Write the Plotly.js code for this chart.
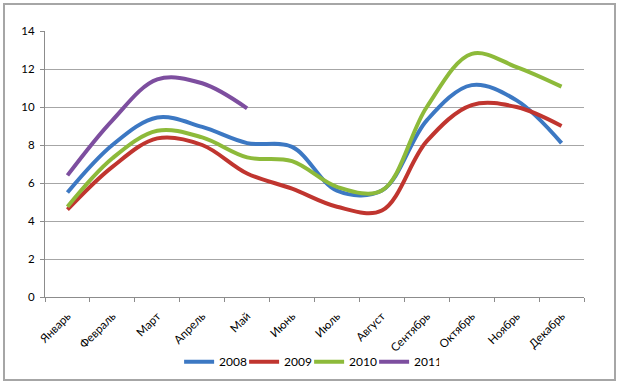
<!DOCTYPE html>
<html>
<head>
<meta charset="utf-8">
<script src="https://cdn.plot.ly/plotly-3.0.1.min.js"></script>
<style>
html,body{margin:0;padding:0;background:#fff;}
#chart{width:620px;height:384px;}
</style>
</head>
<body>
<div id="chart"></div>
<script>
var months = ["Январь","Февраль","Март","Апрель","Май","Июнь","Июль","Август","Сентябрь","Октябрь","Ноябрь","Декабрь"];
var s2008 = [5.5, 8.0, 9.45, 8.95, 8.1, 7.9, 5.6, 5.6, 9.3, 11.15, 10.35, 8.1];
var s2009 = [4.6, 6.85, 8.35, 8.0, 6.5, 5.7, 4.75, 4.55, 8.2, 10.1, 10.0, 9.0];
var s2010 = [4.75, 7.3, 8.75, 8.4, 7.35, 7.15, 5.8, 5.6, 10.0, 12.8, 12.1, 11.07];
var s2011 = [6.4, 9.3, 11.45, 11.25, 9.93];
var names = ["2008","2009","2010","2011"];
var colors = ["#3C78C3","#C0352F","#8DBA3A","#7D4E9F"];
var series = [s2008, s2009, s2010, s2011];

var traces = series.map(function(v, i){
  return {
    type: "scatter",
    mode: "lines",
    x: months.slice(0, v.length),
    y: v,
    name: names[i],
    line: {color: colors[i], width: 4, shape: "spline", smoothing: 1}
  };
});

var layout = {
  width: 620, height: 384,
  margin: {l: 45, r: 36, t: 31, b: 87, autoexpand: false},
  paper_bgcolor: "#fff",
  plot_bgcolor: "#fff",
  font: {family: "Lato, 'Liberation Sans', sans-serif", size: 11.5, color: "#000"},
  showlegend: true,
  legend: {orientation: "h", xref: "paper", x: 0.49, xanchor: "center",
           yref: "container", y: 0.058, yanchor: "middle",
           bgcolor: "rgba(0,0,0,0)",
           font: {size: 12}, itemwidth: 30, entrywidth: 20, entrywidthmode: "pixels",
           tracegroupgap: 0},
  xaxis: {
    type: "category",
    categoryorder: "array",
    categoryarray: months,
    range: [-0.5, 11.5],
    tickangle: -45,
    tickson: "boundaries",
    ticks: "outside", ticklen: 4, tickcolor: "#8c8c8c",
    ticklabelstandoff: 7,
    showline: true, linecolor: "#8c8c8c", linewidth: 1,
    showgrid: false, zeroline: false,
    fixedrange: true
  },
  yaxis: {
    range: [0, 14],
    dtick: 2,
    ticks: "outside", ticklen: 4, tickcolor: "#8c8c8c",
    ticklabelstandoff: 3,
    showline: true, linecolor: "#8c8c8c", linewidth: 1,
    showgrid: true, gridcolor: "#a6a6a6", gridwidth: 1,
    zeroline: false,
    fixedrange: true
  },
  shapes: [{
    type: "rect", xref: "paper", yref: "paper",
    x0: (4-45)/539, x1: (615-45)/539,
    y0: (297-380)/266, y1: (297-4)/266,
    line: {color: "#a6a6a6", width: 2},
    fillcolor: "rgba(0,0,0,0)",
    layer: "below"
  }]
};

Plotly.newPlot("chart", traces, layout, {displayModeBar: false, staticPlot: true});
</script>
</body>
</html>
